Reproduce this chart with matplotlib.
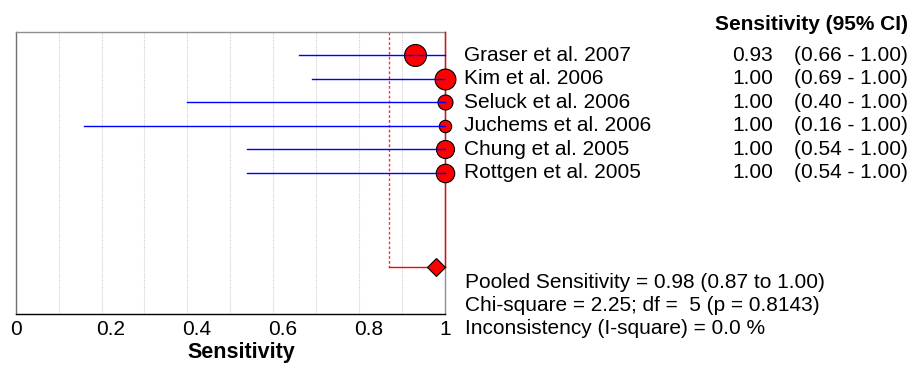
import numpy as np
import matplotlib.pyplot as plt
from matplotlib.transforms import blended_transform_factory, ScaledTranslation

plt.rcParams['font.family'] = ['Liberation Sans', 'DejaVu Sans']

# study data
studies = ['Graser et al. 2007', 'Kim et al. 2006', 'Seluck et al. 2006',
           'Juchems et al. 2006', 'Chung et al. 2005', 'Rottgen et al. 2005']
sens = [0.93, 1.00, 1.00, 1.00, 1.00, 1.00]
ci_low = [0.66, 0.69, 0.40, 0.16, 0.54, 0.54]
ci_high = [1.00, 1.00, 1.00, 1.00, 1.00, 1.00]
weights = [15.8, 15.0, 10.8, 8.9, 13.0, 13.3]   # marker size ~ study weight

pooled = 0.98
pooled_low = 0.87
pooled_high = 1.00
summary = ['Pooled Sensitivity = 0.98 (0.87 to 1.00)',
           'Chi-square = 2.25; df =  5 (p = 0.8143)',
           'Inconsistency (I-square) = 0.0 %']

W, H = 915, 365
fig = plt.figure(figsize=(W / 100, H / 100), dpi=100)
ax = fig.add_axes([15.7 / W, 1 - 314 / H, 429 / W, (314 - 31.7) / H])

rows = np.arange(len(studies))
pooled_row = 9

# grid
for g in np.arange(0.1, 1.0, 0.1):
    ax.axvline(g, color='#d0d0d0', lw=0.8, ls=(0, (1, 1)), zorder=0)

# pooled lines
ax.plot([pooled_low, pooled_low], [-1, pooled_row], color='#ff3030', lw=1.0, ls=(0, (2, 1.5)), zorder=1)
ax.plot([pooled_high, pooled_high], [-1, pooled_row], color='red', lw=1.0, zorder=3, clip_on=False)
ax.plot([pooled_low, pooled_high], [pooled_row, pooled_row], color='red', lw=1.0, zorder=3, clip_on=False)

# studies
for r, s, lo, hi, w in zip(rows, sens, ci_low, ci_high, weights):
    ax.plot(s, r, 'o', ms=w, mfc='red', mec='black', mew=0.8, zorder=3.5, clip_on=False)
    ax.plot([lo, hi], [r, r], color='#0000ff', lw=1.0, zorder=4, clip_on=False)

ax.plot(pooled, pooled_row, 'D', ms=9.5, mfc='red', mec='black', mew=0.8, zorder=4, clip_on=False)

ax.set_xlim(0, 1)
ax.set_ylim(11, -1)
ax.set_yticks([])
ax.set_xticks([0, 0.2, 0.4, 0.6, 0.8, 1])
ax.set_xticklabels(['0', '0.2', '0.4', '0.6', '0.8', '1'])
ax.tick_params(axis='x', length=0, labelsize=15, pad=4)
for lab in ax.get_xticklabels()[1:-1]:
    lab.set_transform(lab.get_transform() + ScaledTranslation(0.095, 0, fig.dpi_scale_trans))
ax.set_xlabel('Sensitivity', fontsize=15.5, fontweight='bold')
ax.xaxis.set_label_coords(0.527, -0.1)

ax.spines['left'].set_color('#707070')
ax.spines['top'].set_color('#909090')
ax.spines['right'].set_color('#909090')
ax.spines['bottom'].set_color('black')
for sp in ax.spines.values():
    sp.set_linewidth(1.0)

tr = blended_transform_factory(fig.transFigure, ax.transData)
ax.text(908 / W, -1.31, 'Sensitivity (95% CI)', transform=tr, ha='right', va='center',
        fontsize=15, fontweight='bold')
for r, name, s, lo, hi in zip(rows, studies, sens, ci_low, ci_high):
    ax.text(464 / W, r, name, transform=tr, ha='left', va='center', fontsize=15)
    ax.text(773 / W, r, '%.2f' % s, transform=tr, ha='right', va='center', fontsize=15)
    ax.text(794 / W, r, '(%.2f - %.2f)' % (lo, hi), transform=tr, ha='left', va='center', fontsize=15)

for i, line in enumerate(summary):
    ax.text(465 / W, 9.68 + i * 0.97, line, transform=tr, ha='left', va='center', fontsize=15)

fig.savefig('out.png', dpi=100)
